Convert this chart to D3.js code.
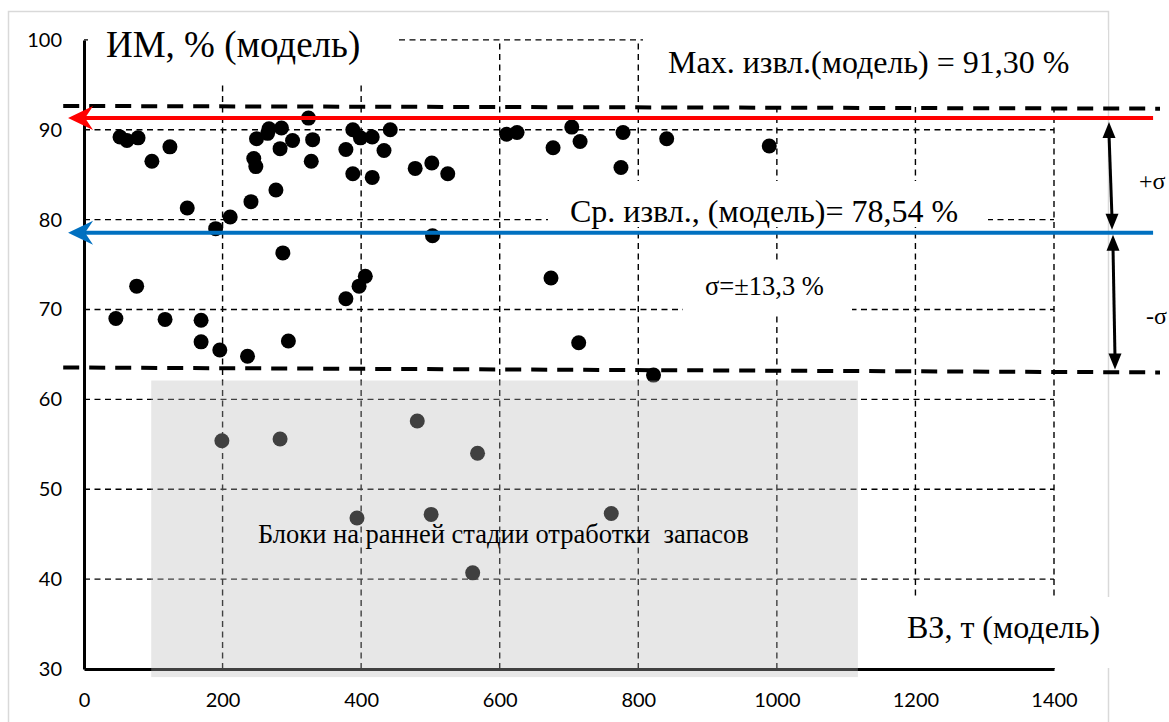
<!DOCTYPE html>
<html>
<head>
<meta charset="utf-8">
<script src="https://cdn.jsdelivr.net/npm/d3@7"></script>
<style>
  html, body { margin: 0; padding: 0; background: #fff; }
  svg { display: block; }
  .serif { font-family: "Liberation Serif", "Times New Roman", serif; fill: #000; }
  .tick { font-family: Lato, "Liberation Sans", sans-serif; font-size: 20px; fill: #000; }
</style>
</head>
<body>
<svg id="chart" width="1169" height="722"></svg>
<script>
// Axis ticks
const xTicks = [0, 200, 400, 600, 800, 1000, 1200, 1400];
const yTicks = [30, 40, 50, 60, 70, 80, 90, 100];

// Model blocks: ВЗ, т (x) and ИМ, % (y)
const vzModel = [52, 62, 78, 98, 124, 149, 190, 211, 241, 245, 248, 249, 265, 267, 285, 283, 277, 301, 324, 330,
  328, 287, 378, 388, 399, 416, 388, 416, 433, 442, 378, 397, 406, 76, 46, 117, 169, 169, 196, 295,
  236, 478, 502, 525, 503, 610, 625, 677, 704, 716, 778, 775, 841, 989, 674, 714, 822];
const imModel = [89.2, 88.8, 89.1, 86.5, 88.1, 81.3, 79.0, 80.3, 82.0, 86.8, 85.9, 89.0, 89.6, 90.1, 90.2, 87.9, 83.3, 88.8, 91.3, 88.9,
  86.5, 76.3, 87.8, 90.0, 89.1, 89.2, 85.1, 84.7, 87.7, 90.0, 71.2, 72.6, 73.7, 72.6, 69.0, 68.9, 68.8, 66.4, 65.5, 66.5,
  64.8, 85.7, 86.3, 85.1, 78.2, 89.5, 89.7, 88.0, 90.3, 88.7, 89.7, 85.8, 89.0, 88.2, 73.5, 66.3, 62.7];

// Blocks at an early stage of reserve extraction
const vzEarly = [199, 283, 394, 501, 761, 561, 568, 481];
const imEarly = [55.4, 55.6, 46.8, 47.2, 47.3, 40.7, 54.0, 57.6];

// Summary values (%)
const maxRecovery = 91.30;
const meanRecovery = 78.54;
const sigma = 13.3;

// Reference lines in data units: [x, y] end points
const maxLine = [[-23, maxRecovery], [1543, maxRecovery]];
const meanLine = [[-23, meanRecovery], [1543, meanRecovery]];
const upperBound = [[-30, 92.65], [1553, 92.35]];
const lowerBound = [[-30, 63.55], [1553, 63.0]];
// Shaded zone of early-stage blocks: x range, y range
const earlyZoneX = [97, 1117];
const earlyZoneY = [62.1, 29.1];

const svg = d3.select("#chart");
const x = d3.scaleLinear().domain([0, 1400]).range([84, 1054]);
const y = d3.scaleLinear().domain([30, 100]).range([669, 39.9]);

// Outer frame
svg.append("rect").attr("x", 8.5).attr("y", 11.5).attr("width", 1100).attr("height", 730)
  .attr("fill", "none").attr("stroke", "#d9d9d9").attr("stroke-width", 1.5);

// Grid
const grid = svg.append("g").attr("stroke", "#000").attr("stroke-width", 1.4).attr("stroke-dasharray", "6,4.5");
grid.selectAll("line.h").data(yTicks.filter(d => d > 30)).join("line").attr("class", "h")
  .attr("x1", x(0)).attr("x2", x(1400)).attr("y1", d => y(d)).attr("y2", d => y(d));
grid.selectAll("line.v").data(xTicks.filter(d => d > 0)).join("line").attr("class", "v")
  .attr("x1", d => x(d)).attr("x2", d => x(d)).attr("y1", y(30)).attr("y2", y(100));

// Axes
const xAxis = d3.axisBottom(x).tickValues(xTicks).tickFormat(d3.format("d")).tickSize(0).tickPadding(22);
const yAxis = d3.axisLeft(y).tickValues(yTicks).tickFormat(d3.format("d")).tickSize(0).tickPadding(22);
const gx = svg.append("g").attr("transform", `translate(0,${y(30)})`).call(xAxis);
const gy = svg.append("g").attr("transform", `translate(${x(0)},0)`).call(yAxis);
[gx, gy].forEach(g => {
  g.select(".domain").attr("stroke", "#000").attr("stroke-width", 3);
  g.selectAll("text").attr("class", "tick").attr("font-family", null).attr("font-size", null);
});
gx.selectAll("text").attr("dy", "0.35em").attr("y", 31);

// Points
const pts = svg.append("g");
pts.selectAll("circle.m").data(vzModel.map((v, i) => [v, imModel[i]])).join("circle").attr("class", "m")
  .attr("cx", d => x(d[0])).attr("cy", d => y(d[1])).attr("r", 7.5).attr("fill", "#000");
pts.selectAll("circle.e").data(vzEarly.map((v, i) => [v, imEarly[i]])).join("circle").attr("class", "e")
  .attr("cx", d => x(d[0])).attr("cy", d => y(d[1])).attr("r", 7.5).attr("fill", "#000");

// Translucent zone over early-stage blocks
svg.append("rect")
  .attr("x", x(earlyZoneX[0])).attr("width", x(earlyZoneX[1]) - x(earlyZoneX[0]))
  .attr("y", y(earlyZoneY[0])).attr("height", y(earlyZoneY[1]) - y(earlyZoneY[0]))
  .attr("fill", "rgb(186,186,186)").attr("fill-opacity", 0.345);

// Text boxes with white backgrounds
function textBox(bx, by, bw, bh, tx, ty, size, txt) {
  svg.append("rect").attr("x", bx).attr("y", by).attr("width", bw).attr("height", bh).attr("fill", "#fff");
  svg.append("text").attr("class", "serif").attr("x", tx).attr("y", ty)
    .attr("font-size", size).style("white-space", "pre").text(txt);
}
textBox(88, 22, 309, 60, 106, 57, 37, "ИМ, % (модель)");
textBox(643, 30, 465, 77, 668, 73, 32, "Max. извл.(модель) = 91,30 %");
textBox(548, 181, 440, 46, 570, 222, 32, "Ср. извл., (модель)= 78,54 %");
textBox(683, 262, 169, 51, 705, 295, 26.5, "σ=±13,3 %");
textBox(862, 597, 255, 71, 907, 638, 32, "ВЗ, т (модель)");

// Zone caption
svg.append("text").attr("class", "serif").attr("x", 258).attr("y", 543).attr("font-size", 26.5)
  .style("white-space", "pre").text("Блоки на ранней стадии отработки  запасов");

// Sigma bounds (dashed)
const lineGen = d3.line().x(d => x(d[0])).y(d => y(d[1]));
[upperBound, lowerBound].forEach(b => {
  svg.append("path").attr("d", lineGen(b)).attr("fill", "none").attr("stroke", "#000")
    .attr("stroke-width", 4).attr("stroke-dasharray", "16,10");
});

// Max and mean lines with arrows pointing to the y axis
function arrowLine(pts, color) {
  const x0 = x(pts[0][0]), y0 = y(pts[0][1]);
  svg.append("path").attr("d", lineGen([[x.invert(x0 + 17), pts[0][1]], pts[1]]))
    .attr("fill", "none").attr("stroke", color).attr("stroke-width", 4);
  svg.append("path")
    .attr("d", `M${x0},${y0} L${x0 + 25},${y0 - 12} L${x0 + 17},${y0} L${x0 + 25},${y0 + 12} Z`)
    .attr("fill", color);
}
arrowLine(maxLine, "#ff0000");
arrowLine(meanLine, "#0070c0");

// ±σ double arrows
function vArrow(xa, ya, xb, yb) {
  const g = svg.append("g");
  g.append("line").attr("x1", xa).attr("y1", ya + 12).attr("x2", xb).attr("y2", yb - 12)
    .attr("stroke", "#000").attr("stroke-width", 3);
  g.append("path").attr("d", `M${xa},${ya} L${xa - 6.5},${ya + 16} L${xa + 6.5},${ya + 16} Z`).attr("fill", "#000");
  g.append("path").attr("d", `M${xb},${yb} L${xb - 6.5},${yb - 16} L${xb + 6.5},${yb - 16} Z`).attr("fill", "#000");
}
const yMax = y(maxRecovery), yMean = y(meanRecovery), yLow = y(63.1);
vArrow(1109, yMax + 4, 1112, yMean - 3);
vArrow(1113, yMean + 2, 1115, yLow - 2);

svg.append("text").attr("class", "serif").attr("x", 1139).attr("y", (yMax + yMean) / 2 + 14)
  .attr("font-size", 24).text("+σ");
svg.append("text").attr("class", "serif").attr("x", 1146).attr("y", (yMean + yLow) / 2 + 22)
  .attr("font-size", 24).text("-σ");
</script>
</body>
</html>
